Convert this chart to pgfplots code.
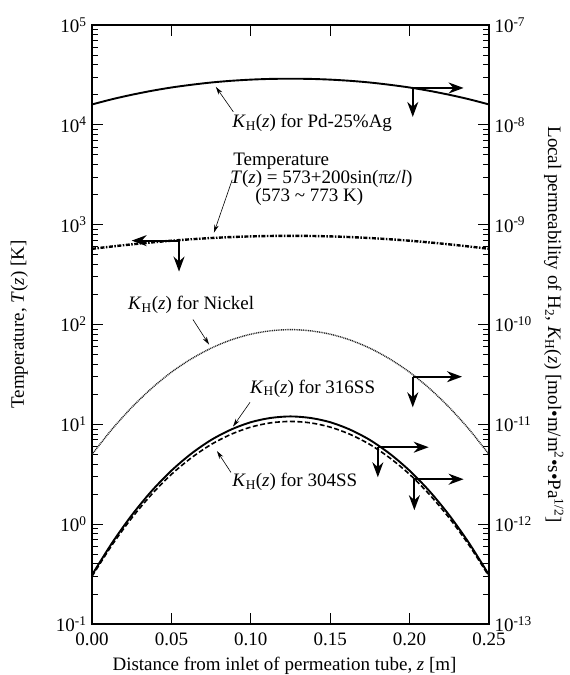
\documentclass[border=0pt]{standalone}
\usepackage{fontspec}
\setmainfont{Liberation Serif}
\usepackage{pgfplots}
\usepackage{pgfplotstable}
\pgfplotsset{compat=1.18}
\usetikzlibrary{arrows.meta}

\pgfplotstableread{
z       Pd     T      Ni     S316   S304
0.0000  16000  573.0  5.00   0.310  0.300
0.0125  18030  604.3  8.89   0.644  0.614
0.0250  20000  634.8  14.76  1.227  1.151
0.0375  21900  663.8  22.9   2.143  1.982
0.0500  23660  690.6  33.3   3.436  3.155
0.0625  25180  714.4  45.2   5.08   4.61
0.0750  26540  734.8  57.9   6.97   6.28
0.0875  27600  751.2  70.0   8.85   7.94
0.1000  28370  763.2  80.0   10.50  9.38
0.1125  28840  770.5  86.5   11.59  10.35
0.1250  28970  773.0  88.9   12.00  10.69
0.1375  28840  770.5  86.5   11.59  10.35
0.1500  28370  763.2  80.0   10.50  9.38
0.1625  27600  751.2  70.0   8.85   7.94
0.1750  26540  734.8  57.9   6.97   6.28
0.1875  25180  714.4  45.2   5.08   4.61
0.2000  23660  690.6  33.3   3.436  3.155
0.2125  21900  663.8  22.9   2.143  1.982
0.2250  20000  634.8  14.76  1.227  1.151
0.2375  18030  604.3  8.89   0.644  0.614
0.2500  16000  573.0  5.00   0.310  0.300
}\datatable

\begin{document}
\fontsize{19}{22}\selectfont
\begin{tikzpicture}
\useasboundingbox (-92pt,-51pt) rectangle (478pt,624pt);
\begin{axis}[scale only axis, width=397pt, height=599pt,
  xmin=0, xmax=0.25, ymode=log, ymin=0.1, ymax=1e5, clip=false,
  tick align=inside,
  major tick length=11pt, minor tick length=6pt,
  every tick/.style={black, line width=0.8pt},
  axis line style={line width=1.1pt},
  ytick={0.1,1,10,100,1000,10000,100000},
  minor ytick={0.2,0.3,0.4,0.5,0.6,0.7,0.8,0.9,2,3,4,5,6,7,8,9,20,30,40,50,60,70,80,90,200,300,400,500,600,700,800,900,2000,3000,4000,5000,6000,7000,8000,9000,20000,30000,40000,50000,60000,70000,80000,90000},
  xtick={0,0.05,0.10,0.15,0.20,0.25},
  xticklabels={0.00,0.05,0.10,0.15,0.20,0.25},
  xtick pos=both, xticklabel pos=bottom,
  ytick pos=both, yticklabel pos=left,
  xticklabel style={yshift=-2pt},
  yticklabel style={xshift=1pt},
  yticklabels={10\textsuperscript{-1},10\textsuperscript{0},10\textsuperscript{1},10\textsuperscript{2},10\textsuperscript{3},10\textsuperscript{4},10\textsuperscript{5}},
  xlabel={Distance from inlet of permeation tube, \textit{z} [m]},
  ylabel={Temperature, \textit{T}(\textit{z}) [K]},
  every axis x label/.style={at={(axis description cs:0.485,-0.069)}, anchor=center},
  every axis y label/.style={at={(axis description cs:-0.183,0.5)}, rotate=90, anchor=center},
]
\addplot[black, line width=1.9pt, smooth] table[x=z, y=Pd] {\datatable};
\addplot[black, line width=2.4pt, smooth, dash pattern=on 4pt off 1.5pt on 1.5pt off 1.5pt] table[x=z, y=T] {\datatable};
\addplot[black!85, line width=1.4pt, smooth, dash pattern=on 1pt off 0.8pt] table[x=z, y=Ni] {\datatable};
\addplot[black, line width=1.9pt, smooth] table[x=z, y=S316] {\datatable};
\addplot[black, line width=1.6pt, smooth, dash pattern=on 5pt off 2.5pt] table[x=z, y=S304] {\datatable};

% labels
\node[anchor=west, inner sep=0pt] at (axis cs:0.0882,1.05e4) {\textit{K}\textsubscript{H}(\textit{z}) for Pd-25\%Ag};
\node[anchor=north west, inner sep=0pt, align=left,
      font=\fontsize{19}{17}\selectfont]
  at (axis cs:0.0870,5248)
  {\hspace*{3pt}Temperature\\
   \textit{T}(\textit{z}) = 573+200sin(π\textit{z}/\textit{l})\\
   \hspace*{25pt}(573 \textasciitilde\ 773 K)};
\node[anchor=west, inner sep=0pt] at (axis cs:0.0227,158) {\textit{K}\textsubscript{H}(\textit{z}) for Nickel};
\node[anchor=west, inner sep=0pt] at (axis cs:0.0995,22.9) {\textit{K}\textsubscript{H}(\textit{z}) for 316SS};
\node[anchor=west, inner sep=0pt] at (axis cs:0.0882,2.63) {\textit{K}\textsubscript{H}(\textit{z}) for 304SS};

% pointer arrows
\draw[line width=0.6pt, -{Stealth[length=8pt,width=4.5pt]}] (axis cs:0.089,1.35e4) -- (axis cs:0.078,2.4e4);
\draw[line width=0.6pt, -{Stealth[length=8pt,width=4.5pt]}] (axis cs:0.0883,2818) -- (axis cs:0.0768,832);
\draw[line width=0.6pt, -{Stealth[length=8pt,width=4.5pt]}] (axis cs:0.0636,112) -- (axis cs:0.0737,63);
\draw[line width=0.6pt, -{Stealth[length=8pt,width=4.5pt]}] (axis cs:0.0995,16.6) -- (axis cs:0.0888,9.5);
\draw[line width=0.6pt, -{Stealth[length=8pt,width=4.5pt]}] (axis cs:0.0875,3.3) -- (axis cs:0.0787,5.4);

% axis indicator arrows
\draw[line width=1.8pt, -{Stealth[length=15pt,width=11pt]}] (axis cs:0.202,2.34e4) -- (axis cs:0.234,2.34e4);
\draw[line width=1.8pt, -{Stealth[length=15pt,width=11pt]}] (axis cs:0.202,2.34e4) -- (axis cs:0.202,1.2e4);
\draw[line width=1.8pt, -{Stealth[length=15pt,width=11pt]}] (axis cs:0.0548,692) -- (axis cs:0.0250,692);
\draw[line width=1.8pt, -{Stealth[length=15pt,width=11pt]}] (axis cs:0.0548,692) -- (axis cs:0.0548,339);
\draw[line width=1.8pt, -{Stealth[length=15pt,width=11pt]}] (axis cs:0.202,30) -- (axis cs:0.233,30);
\draw[line width=1.8pt, -{Stealth[length=15pt,width=11pt]}] (axis cs:0.202,30) -- (axis cs:0.202,14.8);
\draw[line width=1.8pt, -{Stealth[length=15pt,width=11pt]}] (axis cs:0.180,5.9) -- (axis cs:0.212,5.9);
\draw[line width=1.8pt, -{Stealth[length=15pt,width=11pt]}] (axis cs:0.180,5.9) -- (axis cs:0.180,2.95);
\draw[line width=1.8pt, -{Stealth[length=15pt,width=11pt]}] (axis cs:0.203,2.82) -- (axis cs:0.234,2.82);
\draw[line width=1.8pt, -{Stealth[length=15pt,width=11pt]}] (axis cs:0.203,2.82) -- (axis cs:0.203,1.38);
\end{axis}

\begin{axis}[scale only axis, width=397pt, height=599pt,
  xmin=0, xmax=0.25, ymode=log, ymin=0.1, ymax=1e5,
  axis y line*=right, axis x line=none,
  tick align=inside,
  major tick length=11pt, minor tick length=6pt,
  every tick/.style={black, line width=0.8pt},
  axis line style={line width=1.1pt},
  ytick={0.1,1,10,100,1000,10000,100000},
  minor ytick={0.2,0.3,0.4,0.5,0.6,0.7,0.8,0.9,2,3,4,5,6,7,8,9,20,30,40,50,60,70,80,90,200,300,400,500,600,700,800,900,2000,3000,4000,5000,6000,7000,8000,9000,20000,30000,40000,50000,60000,70000,80000,90000},
  yticklabel style={xshift=-1pt},
  yticklabels={10\textsuperscript{-13},10\textsuperscript{-12},10\textsuperscript{-11},10\textsuperscript{-10},10\textsuperscript{-9},10\textsuperscript{-8},10\textsuperscript{-7}},
  ylabel={Local permeability of H\textsubscript{2}, \textit{K}\textsubscript{H}(\textit{z}) [mol•m/m\textsuperscript{2}•s•Pa\textsuperscript{1/2}]},
  every axis y label/.style={at={(axis description cs:1.163,0.5)}, rotate=-90, anchor=center},
]
\end{axis}
\end{tikzpicture}
\end{document}
